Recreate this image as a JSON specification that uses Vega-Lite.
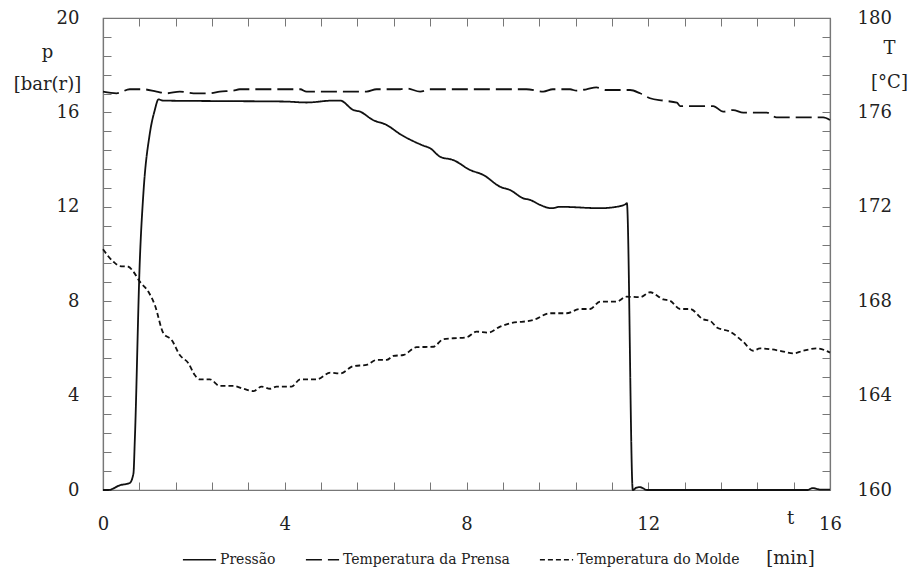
{
  "$schema": "https://vega.github.io/schema/vega-lite/v6.json",
  "width": 727,
  "height": 472,
  "autosize": {"type": "none"},
  "padding": {"left": 103, "top": 18, "right": 82, "bottom": 80},
  "background": "white",
  "datasets": {
    "pressao": [
      {"t": 0, "p": 0, "serie": "Pressão"},
      {"t": 0.12, "p": 0.0, "serie": "Pressão"},
      {"t": 0.37, "p": 0.2, "serie": "Pressão"},
      {"t": 0.59, "p": 0.3, "serie": "Pressão"},
      {"t": 0.67, "p": 0.7, "serie": "Pressão"},
      {"t": 0.70, "p": 2.1, "serie": "Pressão"},
      {"t": 0.81, "p": 9.7, "serie": "Pressão"},
      {"t": 0.89, "p": 12.6, "serie": "Pressão"},
      {"t": 1.03, "p": 15.1, "serie": "Pressão"},
      {"t": 1.14, "p": 16.1, "serie": "Pressão"},
      {"t": 1.22, "p": 16.55, "serie": "Pressão"},
      {"t": 1.32, "p": 16.5, "serie": "Pressão"},
      {"t": 2.5, "p": 16.48, "serie": "Pressão"},
      {"t": 4.0, "p": 16.46, "serie": "Pressão"},
      {"t": 4.48, "p": 16.42, "serie": "Pressão"},
      {"t": 5.06, "p": 16.5, "serie": "Pressão"},
      {"t": 5.22, "p": 16.5, "serie": "Pressão"},
      {"t": 5.51, "p": 16.1, "serie": "Pressão"},
      {"t": 5.66, "p": 16.03, "serie": "Pressão"},
      {"t": 5.94, "p": 15.68, "serie": "Pressão"},
      {"t": 6.24, "p": 15.47, "serie": "Pressão"},
      {"t": 6.54, "p": 15.08, "serie": "Pressão"},
      {"t": 7.04, "p": 14.6, "serie": "Pressão"},
      {"t": 7.2, "p": 14.48, "serie": "Pressão"},
      {"t": 7.42, "p": 14.12, "serie": "Pressão"},
      {"t": 7.71, "p": 13.98, "serie": "Pressão"},
      {"t": 8.08, "p": 13.56, "serie": "Pressão"},
      {"t": 8.37, "p": 13.35, "serie": "Pressão"},
      {"t": 8.74, "p": 12.85, "serie": "Pressão"},
      {"t": 8.96, "p": 12.71, "serie": "Pressão"},
      {"t": 9.25, "p": 12.36, "serie": "Pressão"},
      {"t": 9.4, "p": 12.29, "serie": "Pressão"},
      {"t": 9.62, "p": 12.08, "serie": "Pressão"},
      {"t": 9.87, "p": 11.94, "serie": "Pressão"},
      {"t": 10.06, "p": 12.0, "serie": "Pressão"},
      {"t": 10.94, "p": 11.94, "serie": "Pressão"},
      {"t": 11.23, "p": 11.98, "serie": "Pressão"},
      {"t": 11.49, "p": 12.1, "serie": "Pressão"},
      {"t": 11.53, "p": 12.15, "serie": "Pressão"},
      {"t": 11.66, "p": 0, "serie": "Pressão"},
      {"t": 11.74, "p": 0.1, "serie": "Pressão"},
      {"t": 11.82, "p": 0.12, "serie": "Pressão"},
      {"t": 11.97, "p": 0, "serie": "Pressão"},
      {"t": 15.5, "p": 0, "serie": "Pressão"},
      {"t": 15.62, "p": 0.08, "serie": "Pressão"},
      {"t": 15.78, "p": 0.02, "serie": "Pressão"},
      {"t": 16, "p": 0.02, "serie": "Pressão"}
    ],
    "temperaturas": [
      {"t": 0.0, "T": 176.88, "serie": "Temperatura da Prensa"},
      {"t": 0.3, "T": 176.81, "serie": "Temperatura da Prensa"},
      {"t": 0.59, "T": 176.98, "serie": "Temperatura da Prensa"},
      {"t": 0.88, "T": 176.98, "serie": "Temperatura da Prensa"},
      {"t": 1.18, "T": 176.88, "serie": "Temperatura da Prensa"},
      {"t": 1.4, "T": 176.81, "serie": "Temperatura da Prensa"},
      {"t": 1.69, "T": 176.88, "serie": "Temperatura da Prensa"},
      {"t": 1.99, "T": 176.81, "serie": "Temperatura da Prensa"},
      {"t": 2.35, "T": 176.81, "serie": "Temperatura da Prensa"},
      {"t": 2.57, "T": 176.88, "serie": "Temperatura da Prensa"},
      {"t": 2.86, "T": 176.92, "serie": "Temperatura da Prensa"},
      {"t": 3.01, "T": 176.98, "serie": "Temperatura da Prensa"},
      {"t": 4.34, "T": 176.98, "serie": "Temperatura da Prensa"},
      {"t": 4.48, "T": 176.88, "serie": "Temperatura da Prensa"},
      {"t": 5.06, "T": 176.88, "serie": "Temperatura da Prensa"},
      {"t": 5.8, "T": 176.88, "serie": "Temperatura da Prensa"},
      {"t": 6.02, "T": 176.98, "serie": "Temperatura da Prensa"},
      {"t": 6.54, "T": 176.98, "serie": "Temperatura da Prensa"},
      {"t": 6.68, "T": 177.02, "serie": "Temperatura da Prensa"},
      {"t": 6.98, "T": 176.88, "serie": "Temperatura da Prensa"},
      {"t": 7.2, "T": 176.98, "serie": "Temperatura da Prensa"},
      {"t": 9.32, "T": 176.98, "serie": "Temperatura da Prensa"},
      {"t": 9.69, "T": 176.88, "serie": "Temperatura da Prensa"},
      {"t": 9.9, "T": 176.98, "serie": "Temperatura da Prensa"},
      {"t": 10.28, "T": 176.98, "serie": "Temperatura da Prensa"},
      {"t": 10.42, "T": 176.92, "serie": "Temperatura da Prensa"},
      {"t": 10.64, "T": 176.98, "serie": "Temperatura da Prensa"},
      {"t": 10.86, "T": 177.06, "serie": "Temperatura da Prensa"},
      {"t": 11.08, "T": 176.95, "serie": "Temperatura da Prensa"},
      {"t": 11.6, "T": 176.95, "serie": "Temperatura da Prensa"},
      {"t": 11.82, "T": 176.81, "serie": "Temperatura da Prensa"},
      {"t": 12.04, "T": 176.6, "serie": "Temperatura da Prensa"},
      {"t": 12.33, "T": 176.5, "serie": "Temperatura da Prensa"},
      {"t": 12.63, "T": 176.41, "serie": "Temperatura da Prensa"},
      {"t": 12.7, "T": 176.27, "serie": "Temperatura da Prensa"},
      {"t": 13.43, "T": 176.27, "serie": "Temperatura da Prensa"},
      {"t": 13.65, "T": 176.03, "serie": "Temperatura da Prensa"},
      {"t": 13.87, "T": 176.1, "serie": "Temperatura da Prensa"},
      {"t": 14.09, "T": 175.99, "serie": "Temperatura da Prensa"},
      {"t": 14.61, "T": 175.99, "serie": "Temperatura da Prensa"},
      {"t": 14.82, "T": 175.79, "serie": "Temperatura da Prensa"},
      {"t": 15.85, "T": 175.79, "serie": "Temperatura da Prensa"},
      {"t": 16.0, "T": 175.68, "serie": "Temperatura da Prensa"},
      {"t": 0.0, "T": 170.2, "serie": "Temperatura do Molde"},
      {"t": 0.23, "T": 169.67, "serie": "Temperatura do Molde"},
      {"t": 0.37, "T": 169.49, "serie": "Temperatura do Molde"},
      {"t": 0.56, "T": 169.46, "serie": "Temperatura do Molde"},
      {"t": 0.67, "T": 169.25, "serie": "Temperatura do Molde"},
      {"t": 0.81, "T": 168.83, "serie": "Temperatura do Molde"},
      {"t": 1.0, "T": 168.4, "serie": "Temperatura do Molde"},
      {"t": 1.14, "T": 167.84, "serie": "Temperatura do Molde"},
      {"t": 1.33, "T": 166.64, "serie": "Temperatura do Molde"},
      {"t": 1.51, "T": 166.36, "serie": "Temperatura do Molde"},
      {"t": 1.69, "T": 165.72, "serie": "Temperatura do Molde"},
      {"t": 1.88, "T": 165.37, "serie": "Temperatura do Molde"},
      {"t": 2.02, "T": 164.87, "serie": "Temperatura do Molde"},
      {"t": 2.13, "T": 164.69, "serie": "Temperatura do Molde"},
      {"t": 2.35, "T": 164.69, "serie": "Temperatura do Molde"},
      {"t": 2.57, "T": 164.41, "serie": "Temperatura do Molde"},
      {"t": 2.87, "T": 164.41, "serie": "Temperatura do Molde"},
      {"t": 3.09, "T": 164.29, "serie": "Temperatura do Molde"},
      {"t": 3.31, "T": 164.19, "serie": "Temperatura do Molde"},
      {"t": 3.49, "T": 164.38, "serie": "Temperatura do Molde"},
      {"t": 3.68, "T": 164.29, "serie": "Temperatura do Molde"},
      {"t": 3.82, "T": 164.38, "serie": "Temperatura do Molde"},
      {"t": 4.15, "T": 164.38, "serie": "Temperatura do Molde"},
      {"t": 4.34, "T": 164.69, "serie": "Temperatura do Molde"},
      {"t": 4.7, "T": 164.69, "serie": "Temperatura do Molde"},
      {"t": 5.0, "T": 164.97, "serie": "Temperatura do Molde"},
      {"t": 5.22, "T": 164.94, "serie": "Temperatura do Molde"},
      {"t": 5.51, "T": 165.25, "serie": "Temperatura do Molde"},
      {"t": 5.8, "T": 165.3, "serie": "Temperatura do Molde"},
      {"t": 6.02, "T": 165.51, "serie": "Temperatura do Molde"},
      {"t": 6.24, "T": 165.51, "serie": "Temperatura do Molde"},
      {"t": 6.39, "T": 165.68, "serie": "Temperatura do Molde"},
      {"t": 6.61, "T": 165.72, "serie": "Temperatura do Molde"},
      {"t": 6.9, "T": 166.05, "serie": "Temperatura do Molde"},
      {"t": 7.27, "T": 166.07, "serie": "Temperatura do Molde"},
      {"t": 7.49, "T": 166.39, "serie": "Temperatura do Molde"},
      {"t": 7.71, "T": 166.43, "serie": "Temperatura do Molde"},
      {"t": 8.0, "T": 166.47, "serie": "Temperatura do Molde"},
      {"t": 8.22, "T": 166.71, "serie": "Temperatura do Molde"},
      {"t": 8.48, "T": 166.67, "serie": "Temperatura do Molde"},
      {"t": 8.74, "T": 166.92, "serie": "Temperatura do Molde"},
      {"t": 8.96, "T": 167.06, "serie": "Temperatura do Molde"},
      {"t": 9.47, "T": 167.2, "serie": "Temperatura do Molde"},
      {"t": 9.84, "T": 167.49, "serie": "Temperatura do Molde"},
      {"t": 10.2, "T": 167.49, "serie": "Temperatura do Molde"},
      {"t": 10.5, "T": 167.67, "serie": "Temperatura do Molde"},
      {"t": 10.72, "T": 167.67, "serie": "Temperatura do Molde"},
      {"t": 10.94, "T": 167.98, "serie": "Temperatura do Molde"},
      {"t": 11.3, "T": 167.98, "serie": "Temperatura do Molde"},
      {"t": 11.52, "T": 168.19, "serie": "Temperatura do Molde"},
      {"t": 11.82, "T": 168.17, "serie": "Temperatura do Molde"},
      {"t": 12.04, "T": 168.38, "serie": "Temperatura do Molde"},
      {"t": 12.33, "T": 168.08, "serie": "Temperatura do Molde"},
      {"t": 12.48, "T": 168.02, "serie": "Temperatura do Molde"},
      {"t": 12.7, "T": 167.67, "serie": "Temperatura do Molde"},
      {"t": 12.92, "T": 167.67, "serie": "Temperatura do Molde"},
      {"t": 13.21, "T": 167.23, "serie": "Temperatura do Molde"},
      {"t": 13.36, "T": 167.17, "serie": "Temperatura do Molde"},
      {"t": 13.51, "T": 166.89, "serie": "Temperatura do Molde"},
      {"t": 13.8, "T": 166.71, "serie": "Temperatura do Molde"},
      {"t": 14.09, "T": 166.28, "serie": "Temperatura do Molde"},
      {"t": 14.31, "T": 165.9, "serie": "Temperatura do Molde"},
      {"t": 14.46, "T": 166.0, "serie": "Temperatura do Molde"},
      {"t": 14.9, "T": 165.9, "serie": "Temperatura do Molde"},
      {"t": 15.19, "T": 165.79, "serie": "Temperatura do Molde"},
      {"t": 15.41, "T": 165.9, "serie": "Temperatura do Molde"},
      {"t": 15.71, "T": 166.0, "serie": "Temperatura do Molde"},
      {"t": 16.0, "T": 165.82, "serie": "Temperatura do Molde"}
    ]
  },
  "layer": [
    {
      "data": {"name": "pressao"},
      "mark": {"type": "line", "interpolate": "monotone", "strokeWidth": 1.8, "color": "#111"},
      "encoding": {
        "x": {
          "field": "t", "type": "quantitative",
          "scale": {"domain": [0, 16], "nice": false},
          "axis": {
            "orient": "bottom",
            "values": [0, 0.8, 1.6, 2.4, 3.2, 4, 4.8, 5.6, 6.4, 7.2, 8, 8.8, 9.6, 10.4, 11.2, 12, 12.8, 13.6, 14.4, 15.2, 16],
            "labelExpr": "abs(datum.value/4 - round(datum.value/4)) < 0.001 ? format(datum.value, 'd') : ''",
            "tickSize": -8,
            "labelPadding": 33,
            "labelFlush": false,
            "labelOverlap": false,
            "labelBound": false,
            "title": ["t", "[min]"],
            "titleX": 687,
            "titleY": 33,
            "titleAlign": "center",
            "titleBaseline": "alphabetic",
            "titleLineHeight": 40
          }
        },
        "y": {
          "field": "p", "type": "quantitative",
          "scale": {"domain": [0, 20], "nice": false},
          "axis": {
            "orient": "left",
            "values": [0, 0.8, 1.6, 2.4, 3.2, 4, 4.8, 5.6, 6.4, 7.2, 8, 8.8, 9.6, 10.4, 11.2, 12, 12.8, 13.6, 14.4, 15.2, 16, 16.8, 17.6, 18.4, 19.2, 20],
            "labelExpr": "abs(datum.value/4 - round(datum.value/4)) < 0.001 ? format(datum.value, 'd') : ''",
            "tickSize": -8,
            "labelPadding": 32,
            "labelFlush": false,
            "labelOverlap": false,
            "labelBound": false,
            "title": ["p", "[bar(r)]"],
            "titleAngle": 0,
            "titleX": -56,
            "titleY": 39,
            "titleAlign": "center",
            "titleBaseline": "alphabetic",
            "titleLineHeight": 32
          }
        },
        "strokeDash": {
          "field": "serie", "type": "nominal",
          "scale": {
            "domain": ["Pressão", "Temperatura da Prensa", "Temperatura do Molde"],
            "range": [[1, 0], [16, 6], [5, 3]]
          },
          "legend": {
            "orient": "none",
            "direction": "horizontal",
            "columns": 3,
            "legendX": 79,
            "legendY": 524,
            "title": null,
            "symbolType": "stroke",
            "symbolSize": 1100,
            "symbolStrokeColor": "#111",
            "symbolStrokeWidth": 1.6,
            "labelFont": "DejaVu Serif",
            "labelFontSize": 14,
            "labelColor": "#222",
            "labelOffset": 3,
            "columnPadding": 26,
            "labelLimit": 400
          }
        }
      }
    },
    {
      "data": {"name": "temperaturas"},
      "mark": {"type": "line", "interpolate": "monotone", "strokeWidth": 1.8, "color": "#111"},
      "encoding": {
        "x": {
          "field": "t", "type": "quantitative",
          "scale": {"domain": [0, 16], "nice": false},
          "axis": {
            "orient": "top",
            "values": [0, 0.8, 1.6, 2.4, 3.2, 4, 4.8, 5.6, 6.4, 7.2, 8, 8.8, 9.6, 10.4, 11.2, 12, 12.8, 13.6, 14.4, 15.2, 16],
            "labels": false,
            "tickSize": -8,
            "title": null
          }
        },
        "y": {
          "field": "T", "type": "quantitative",
          "scale": {"domain": [160, 180], "nice": false},
          "axis": {
            "orient": "right",
            "values": [160, 160.8, 161.6, 162.4, 163.2, 164, 164.8, 165.6, 166.4, 167.2, 168, 168.8, 169.6, 170.4, 171.2, 172, 172.8, 173.6, 174.4, 175.2, 176, 176.8, 177.6, 178.4, 179.2, 180],
            "labelExpr": "abs((datum.value-160)/4 - round((datum.value-160)/4)) < 0.001 ? format(datum.value, 'd') : ''",
            "tickSize": -8,
            "labelPadding": 35,
            "labelFlush": false,
            "labelOverlap": false,
            "labelBound": false,
            "title": ["T", "[°C]"],
            "titleAngle": 0,
            "titleX": 59,
            "titleY": 35,
            "titleAlign": "center",
            "titleBaseline": "alphabetic",
            "titleLineHeight": 34
          }
        },
        "strokeDash": {
          "field": "serie", "type": "nominal",
          "scale": {
            "domain": ["Pressão", "Temperatura da Prensa", "Temperatura do Molde"],
            "range": [[1, 0], [16, 6], [5, 3]]
          }
        }
      }
    }
  ],
  "resolve": {"scale": {"y": "independent"}, "axis": {"x": "independent", "y": "independent"}},
  "config": {
    "view": {"stroke": "#777", "strokeWidth": 1.2},
    "axis": {
      "grid": false,
      "domainColor": "#777",
      "domainWidth": 1.2,
      "tickColor": "#777",
      "tickWidth": 1,
      "labelFont": "DejaVu Serif",
      "labelFontSize": 18,
      "labelColor": "#222",
      "titleFont": "DejaVu Serif",
      "titleFontSize": 18,
      "titleFontWeight": "normal",
      "titleColor": "#222"
    }
  }
}
